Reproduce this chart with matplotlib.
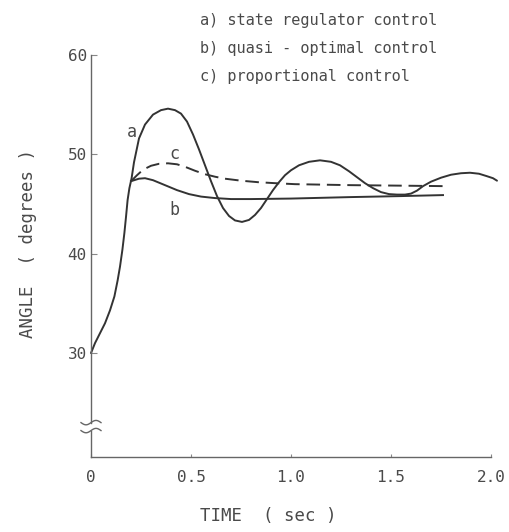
import numpy as np
import matplotlib
matplotlib.use("Agg")
import matplotlib.pyplot as plt
import matplotlib.transforms as mtransforms

# ── data ──────────────────────────────────────────────────────────────────
# a) state regulator control
t_a = [0.0, 0.02, 0.045, 0.07, 0.095, 0.117, 0.133, 0.145, 0.157, 0.167,
       0.175, 0.183, 0.192, 0.203, 0.215, 0.24, 0.27, 0.31, 0.35, 0.385,
       0.42, 0.45, 0.48, 0.51, 0.54, 0.57, 0.60, 0.63, 0.66, 0.69,
       0.72, 0.755, 0.79, 0.82, 0.85, 0.88, 0.91, 0.94, 0.97, 1.0,
       1.04, 1.09, 1.145, 1.2, 1.245, 1.29, 1.33, 1.37, 1.41, 1.45,
       1.49, 1.53, 1.57, 1.6, 1.63, 1.66, 1.70, 1.75, 1.80, 1.85,
       1.895, 1.94, 1.98, 2.01, 2.03]
ang_a = [30.0, 31.0, 32.0, 33.0, 34.3, 35.7, 37.3, 38.7, 40.4, 42.1,
         43.7, 45.4, 46.6, 47.6, 49.2, 51.6, 53.0, 54.0, 54.45, 54.6,
         54.45, 54.1, 53.3, 52.0, 50.5, 48.9, 47.3, 45.8, 44.6, 43.8,
         43.35, 43.2, 43.4, 43.9, 44.6, 45.5, 46.4, 47.2, 47.9, 48.4,
         48.9, 49.25, 49.4, 49.25, 48.9, 48.3, 47.7, 47.1, 46.6, 46.2,
         46.0, 45.95, 45.95, 46.05, 46.35, 46.8, 47.25, 47.65, 47.95, 48.1,
         48.15, 48.05, 47.8, 47.6, 47.35]

# b) quasi-optimal control
t_b = [0.2, 0.24, 0.27, 0.31, 0.37, 0.43, 0.49, 0.55, 0.62, 0.7,
       0.8, 1.0, 1.3, 1.55, 1.76]
ang_b = [47.3, 47.55, 47.6, 47.4, 46.9, 46.4, 46.0, 45.75, 45.6, 45.5,
         45.5, 45.55, 45.7, 45.8, 45.9]

# c) proportional control
t_c = [0.2, 0.23, 0.26, 0.3, 0.34, 0.385, 0.43, 0.47, 0.52, 0.57,
       0.62, 0.67, 0.75, 0.835, 0.92, 1.02, 1.3, 1.55, 1.77]
ang_c = [47.3, 47.9, 48.45, 48.85, 49.05, 49.1, 49.0, 48.75, 48.35, 48.0,
         47.75, 47.55, 47.35, 47.2, 47.1, 47.0, 46.9, 46.85, 46.8]

legend_lines = ["a) state regulator control",
                "b) quasi - optimal control",
                "c) proportional control"]
x_ticks = [0, 0.5, 1.0, 1.5, 2.0]
x_ticklabels = ["0", "0.5", "1.0", "1.5", "2.0"]
y_ticks = [30, 40, 50, 60]
# ──────────────────────────────────────────────────────────────────────────

INK = "#333333"
TXT = "#4a4a4a"
AX = "#666666"

plt.rcParams.update({
    "font.family": "DejaVu Sans Mono",
    "font.size": 11,
})

fig = plt.figure(figsize=(5.09, 5.32), dpi=100)
ax = fig.add_axes([91 / 509, 75 / 532, 400 / 509, 402 / 532])

ax.plot(t_a, ang_a, color=INK, lw=1.4, clip_on=False, solid_capstyle="round",
        solid_joinstyle="round")
ax.plot(t_b, ang_b, color=INK, lw=1.4, clip_on=False, solid_joinstyle="round")
ax.plot(t_c, ang_c, color=INK, lw=1.4, dashes=(7, 3.5), clip_on=False)

ax.set_xlim(0, 2.0)
ax.set_ylim(19.54, 60)

for s in ("top", "right", "left"):
    ax.spines[s].set_visible(False)
ax.spines["bottom"].set_color(AX)
ax.spines["bottom"].set_linewidth(1.0)

# left axis drawn in two pieces around the break
blend = mtransforms.blended_transform_factory(ax.transAxes, ax.transData)
ax.plot([0, 0], [19.54, 22.2], color=AX, lw=1.0, transform=blend, clip_on=False)
ax.plot([0, 0], [23.0, 60], color=AX, lw=1.0, transform=blend, clip_on=False)

# break marks
u = np.linspace(-1, 1, 30)
for yb in (23.0, 22.2):
    px0, py0 = ax.transData.transform((0, yb))
    ax.plot(px0 + u * 10, py0 + 2.2 * np.sin(u * np.pi), color=AX, lw=1.0,
            transform=None, clip_on=False)

ax.set_xticks(x_ticks)
ax.set_xticklabels(x_ticklabels)
ax.set_yticks(y_ticks)
ax.tick_params(axis="x", direction="in", length=2, width=0.8, colors="#888888",
               labelcolor=TXT, labelsize=11.5, pad=9)
ax.tick_params(axis="y", direction="in", length=4, width=0.8, colors="#888888",
               labelcolor=TXT, labelsize=11.5, pad=3)

ax.set_xlabel("TIME  ( sec )", color=TXT, fontsize=12.5, va="center")
ax.set_ylabel("ANGLE  ( degrees )", color=TXT, fontsize=12.5, va="center")
ax.xaxis.set_label_coords(177 / 400, -59 / 402)
ax.yaxis.set_label_coords(-63 / 400, 214 / 402)

# curve labels
ax.text(0.205, 52.2, "a", color=TXT, fontsize=12, ha="center", va="center")
ax.text(0.415, 50.0, "c", color=TXT, fontsize=12, ha="center", va="center")
ax.text(0.415, 44.4, "b", color=TXT, fontsize=12, ha="center", va="center")

# legend block above plot
for i, line in enumerate(legend_lines):
    fig.text(200 / 509, 1 - (21 + 28 * i) / 532, line, color=TXT,
             fontsize=11, ha="left", va="center")

fig.savefig("out.png", dpi=100, facecolor="white")
